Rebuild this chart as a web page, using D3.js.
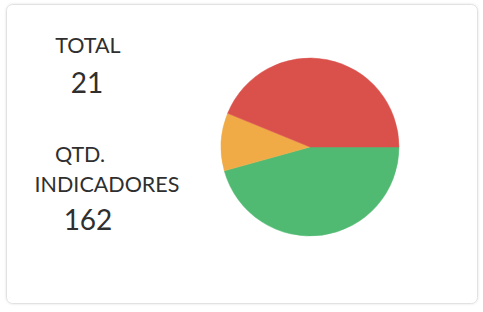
<!DOCTYPE html>
<html>
<head>
<meta charset="utf-8">
<script src="https://cdn.jsdelivr.net/npm/d3@7"></script>
<style>
  body { margin: 0; background: #fff; }
  svg { display: block; }
  .lbl { font-family: Lato, "Open Sans", sans-serif; fill: #2f2f2f; }
</style>
</head>
<body>
<div id="chart"></div>
<script>
// slice data (green, orange, red) - counts of indicators
var categories = ["Verde", "Laranja", "Vermelho"];
var values = [74, 17, 71];
var colors = ["#50ba72", "#f0ab46", "#da514c"];

// left side numbers
var statLabels = ["TOTAL", "QTD.", "INDICADORES"];
var statValues = ["21", "162"];

var width = 483, height = 312;

var svg = d3.select("#chart").append("svg")
    .attr("width", width)
    .attr("height", height);

// card
var defs = svg.append("defs");
var f = defs.append("filter").attr("id", "sh").attr("x", "-5%").attr("y", "-5%").attr("width", "110%").attr("height", "110%");
f.append("feDropShadow").attr("dx", 0).attr("dy", 0).attr("stdDeviation", 1.2).attr("flood-color", "#000").attr("flood-opacity", 0.12);

svg.append("rect")
    .attr("x", 6.5).attr("y", 4.5)
    .attr("width", 471).attr("height", 299)
    .attr("rx", 6)
    .attr("fill", "#fff")
    .attr("stroke", "#e2e2e2")
    .attr("filter", "url(#sh)");

// text block
var txt = svg.append("g");
txt.append("text").attr("class", "lbl").attr("x", 88).attr("y", 53)
    .attr("text-anchor", "middle").attr("font-size", 21.5).text(statLabels[0]);
txt.append("text").attr("class", "lbl").attr("x", 87).attr("y", 93)
    .attr("text-anchor", "middle").attr("font-size", 28).text(statValues[0]);
txt.append("text").attr("class", "lbl").attr("x", 80).attr("y", 162)
    .attr("text-anchor", "middle").attr("font-size", 21.5).text(statLabels[1]);
txt.append("text").attr("class", "lbl").attr("x", 107).attr("y", 192)
    .attr("text-anchor", "middle").attr("font-size", 21.5).text(statLabels[2]);
txt.append("text").attr("class", "lbl").attr("x", 88).attr("y", 230)
    .attr("text-anchor", "middle").attr("font-size", 28).text(statValues[1]);

// pie
var radius = 89;
var pie = d3.pie()
    .sort(null)
    .startAngle(Math.PI / 2)
    .endAngle(Math.PI / 2 + 2 * Math.PI);
var arc = d3.arc().innerRadius(0).outerRadius(radius);

var g = svg.append("g").attr("transform", "translate(310,147)");
g.selectAll("path")
    .data(pie(values))
    .enter().append("path")
    .attr("d", arc)
    .attr("fill", function (d, i) { return colors[i]; })
    .attr("stroke", function (d, i) { return colors[i]; })
    .attr("stroke-width", 0.5);
</script>
</body>
</html>
